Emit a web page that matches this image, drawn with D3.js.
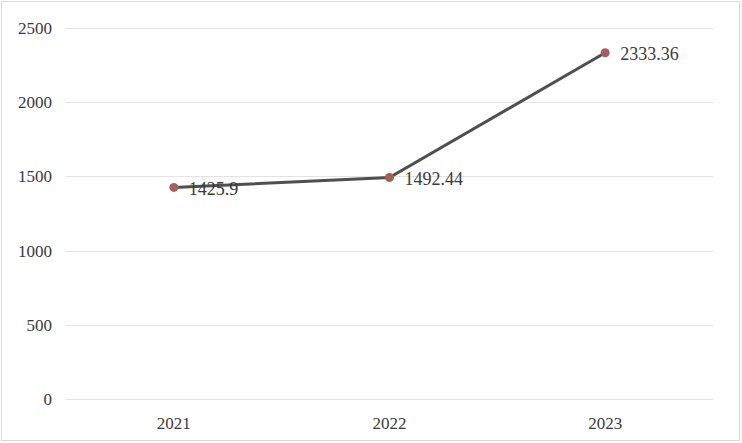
<!DOCTYPE html>
<html>
<head>
<meta charset="utf-8">
<script src="https://cdn.jsdelivr.net/npm/d3@7"></script>
<style>
  body { margin: 0; background: #fff; }
</style>
</head>
<body>
<div id="chart"></div>
<script>
const years = ['2021', '2022', '2023'];
const values = [1425.9, 1492.44, 2333.36];
const valueLabels = ['1425.9', '1492.44', '2333.36'];
const yTicks = [0, 500, 1000, 1500, 2000, 2500];

const W = 742, H = 443;
const margin = { top: 28, right: 29, bottom: 44, left: 66 };
const FONT = "'Liberation Serif', 'Times New Roman', Times, 'DejaVu Serif', serif";

const svg = d3.select('#chart').append('svg')
  .attr('width', W)
  .attr('height', H);

svg.append('rect')
  .attr('x', 1.5).attr('y', 1.5)
  .attr('width', W - 4).attr('height', H - 4)
  .attr('fill', '#fff')
  .attr('stroke', '#d9d9d9');

const x = d3.scaleBand()
  .domain(years)
  .range([margin.left, W - margin.right]);

const y = d3.scaleLinear()
  .domain([0, 2500])
  .range([H - margin.bottom, margin.top]);

// gridlines
svg.append('g')
  .selectAll('line')
  .data(yTicks)
  .enter().append('line')
    .attr('x1', margin.left)
    .attr('x2', W - margin.right)
    .attr('y1', (d) => Math.round(y(d)) + 0.5)
    .attr('y2', (d) => Math.round(y(d)) + 0.5)
    .attr('stroke', '#e3e3e3')
    .attr('stroke-width', 1);

// y labels
svg.append('g')
  .selectAll('text')
  .data(yTicks)
  .enter().append('text')
    .attr('x', 52)
    .attr('y', (d) => y(d))
    .attr('dy', '0.35em')
    .attr('text-anchor', 'end')
    .attr('font-family', FONT)
    .attr('font-size', 17)
    .attr('fill', '#3a3a3a')
    .text((d) => d);

// x labels
svg.append('g')
  .selectAll('text')
  .data(years)
  .enter().append('text')
    .attr('x', (d) => x(d) + x.bandwidth() / 2)
    .attr('y', 423)
    .attr('dy', '0.35em')
    .attr('text-anchor', 'middle')
    .attr('font-family', FONT)
    .attr('font-size', 17)
    .attr('fill', '#3a3a3a')
    .text((d) => d);

const pts = years.map((yr, i) => ({ yr, v: values[i], label: valueLabels[i] }));

const line = d3.line()
  .x((d) => x(d.yr) + x.bandwidth() / 2)
  .y((d) => y(d.v));

svg.append('path')
  .datum(pts)
  .attr('d', line)
  .attr('fill', 'none')
  .attr('stroke', '#4f4f4f')
  .attr('stroke-width', 3);

svg.append('g')
  .selectAll('circle')
  .data(pts)
  .enter().append('circle')
    .attr('cx', (d) => x(d.yr) + x.bandwidth() / 2)
    .attr('cy', (d) => y(d.v))
    .attr('r', 4.5)
    .attr('fill', '#a5605e');

svg.append('g')
  .selectAll('text')
  .data(pts)
  .enter().append('text')
    .attr('x', (d) => x(d.yr) + x.bandwidth() / 2 + 15)
    .attr('y', (d) => y(d.v) + 1)
    .attr('dy', '0.35em')
    .attr('font-family', FONT)
    .attr('font-size', 18)
    .attr('fill', '#3a3a3a')
    .text((d) => d.label);
</script>
</body>
</html>
